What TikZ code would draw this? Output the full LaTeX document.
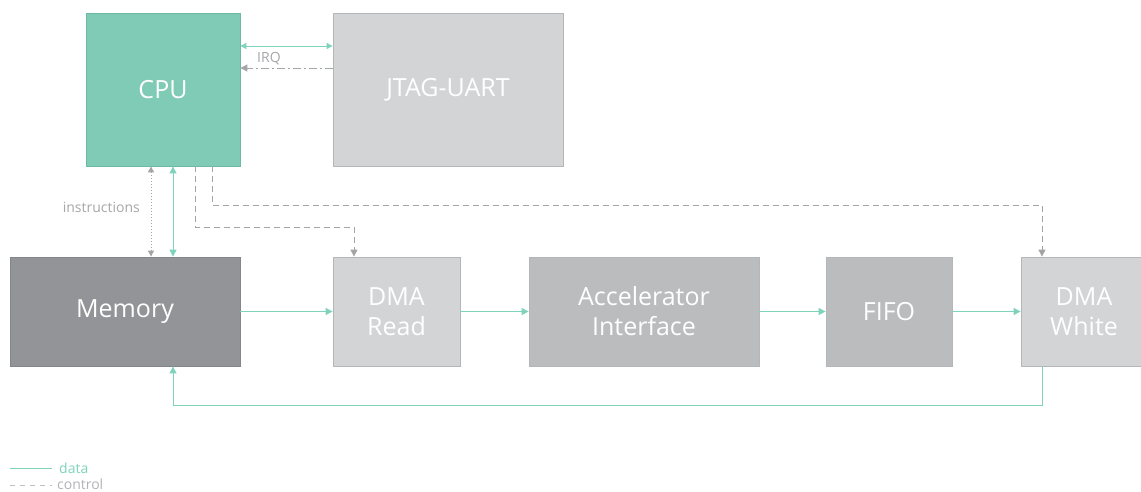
\documentclass[tikz,border=0pt]{standalone}
\usepackage{fontspec}
\setmainfont{Open Sans}
\usetikzlibrary{arrows.meta}
\definecolor{cputeal}{HTML}{80CBB6}
\definecolor{cpuedge}{HTML}{6DB9A3}
\definecolor{teal}{HTML}{7FD3BA}
\definecolor{lightg}{HTML}{D3D4D6}
\definecolor{midg}{HTML}{BBBCBE}
\definecolor{darkg}{HTML}{939497}
\definecolor{edgeg}{HTML}{B5B6B8}
\definecolor{ctrl}{HTML}{A3A4A6}
\definecolor{labelg}{HTML}{A5A6A8}
\tikzset{
  blk/.style={draw=edgeg, line width=0.8pt, inner sep=0pt, text=white, font=\fontsize{25}{30}\selectfont, align=center},
  datal/.style={draw=teal, line width=1pt},
  ctrll/.style={draw=ctrl, line width=1pt, dash pattern=on 6pt off 4pt},
  lbl/.style={font=\fontsize{14}{16}\selectfont, text=labelg}
}
\begin{document}
\begin{tikzpicture}[x=1pt,y=-1pt]
\useasboundingbox (0,0) rectangle (1141,491);
% blocks
\node[blk, fill=cputeal, draw=cpuedge, minimum width=154pt, minimum height=153pt] (cpu) at (163,89.5) {CPU};
\node[blk, fill=lightg, minimum width=230pt, minimum height=153pt] (jtag) at (448,89.5) {JTAG-UART};
\node[blk, fill=darkg, draw=darkg!90!black, minimum width=230pt, minimum height=109pt] (mem) at (125,311.5) {Memory};
\node[blk, fill=lightg, minimum width=127pt, minimum height=109pt] (dmar) at (396.5,311.5) {DMA\\Read};
\node[blk, fill=midg, minimum width=230pt, minimum height=109pt] (acc) at (644,311.5) {Accelerator\\Interface};
\node[blk, fill=midg, minimum width=126pt, minimum height=109pt] (fifo) at (889,311.5) {FIFO};
\node[blk, fill=lightg, minimum width=126pt, minimum height=109pt] (dmaw) at (1084,311.5) {DMA\\White};
% CPU <-> JTAG
\draw[datal, {Triangle[width=6pt,length=6pt]}-{Triangle[width=6pt,length=6pt]}] (cpu.east |- 0,46) -- (jtag.west |- 0,46);
\draw[draw=ctrl, line width=1pt, dash pattern=on 8pt off 3pt on 2pt off 3pt, -{Triangle[width=7pt,length=7pt]}] (jtag.west |- 0,68) -- (cpu.east |- 0,68);
\node[lbl, anchor=base west, inner sep=0pt] (irq) at (257,62) {IRQ};
% CPU <-> Memory
\draw[draw=ctrl, line width=1pt, dotted, {Triangle[width=6pt,length=6pt]}-{Triangle[width=6pt,length=6pt]}] (cpu.south -| 151,0) -- (mem.north -| 151,0);
\node[lbl, anchor=base east, inner sep=0pt] (instr) at (140,212) {instructions};
\draw[datal, {Triangle[width=7pt,length=7pt]}-{Triangle[width=7pt,length=7pt]}] (cpu.south -| 173,0) -- (mem.north -| 173,0);
% control lines
\coordinate (c1) at (195,227);
\coordinate (c2) at (212,205);
\draw[ctrll, -{Triangle[width=7pt,length=7pt]}] (cpu.south -| c1) -- (c1) -| (dmar.north -| 354,0);
\draw[ctrll, -{Triangle[width=7pt,length=7pt]}] (cpu.south -| c2) -- (c2) -| (dmaw.north -| 1042,0);
% data chain
\draw[datal, -{Triangle[width=7pt,length=7pt]}] (mem.east) -- (dmar.west);
\draw[datal, -{Triangle[width=7pt,length=7pt]}] (dmar.east) -- (acc.west);
\draw[datal, -{Triangle[width=7pt,length=7pt]}] (acc.east) -- (fifo.west);
\draw[datal, -{Triangle[width=7pt,length=7pt]}] (fifo.east) -- (dmaw.west);
\coordinate (r1) at (1042,405);
\coordinate (r2) at (173,405);
\draw[datal, -{Triangle[width=7pt,length=7pt]}] (dmaw.south -| r1) -- (r1) -- (r2) -- (mem.south -| r2);
% legend
\coordinate (l1) at (10,468);
\coordinate (l2) at (52,468);
\coordinate (l3) at (10,485);
\coordinate (l4) at (52,485);
\draw[datal] (l1) -- (l2);
\draw[draw=ctrl!70, line width=1pt, dash pattern=on 5pt off 5pt] (l3) -- (l4);
\node[font=\fontsize{14}{16}\selectfont, text=teal, anchor=base west, inner sep=0pt] (ldata) at (59,473) {data};
\node[font=\fontsize{14}{16}\selectfont, text=labelg!85, anchor=base west, inner sep=0pt, text depth=0pt] (lctrl) at (57,489.5) {control};
\end{tikzpicture}
\end{document}
